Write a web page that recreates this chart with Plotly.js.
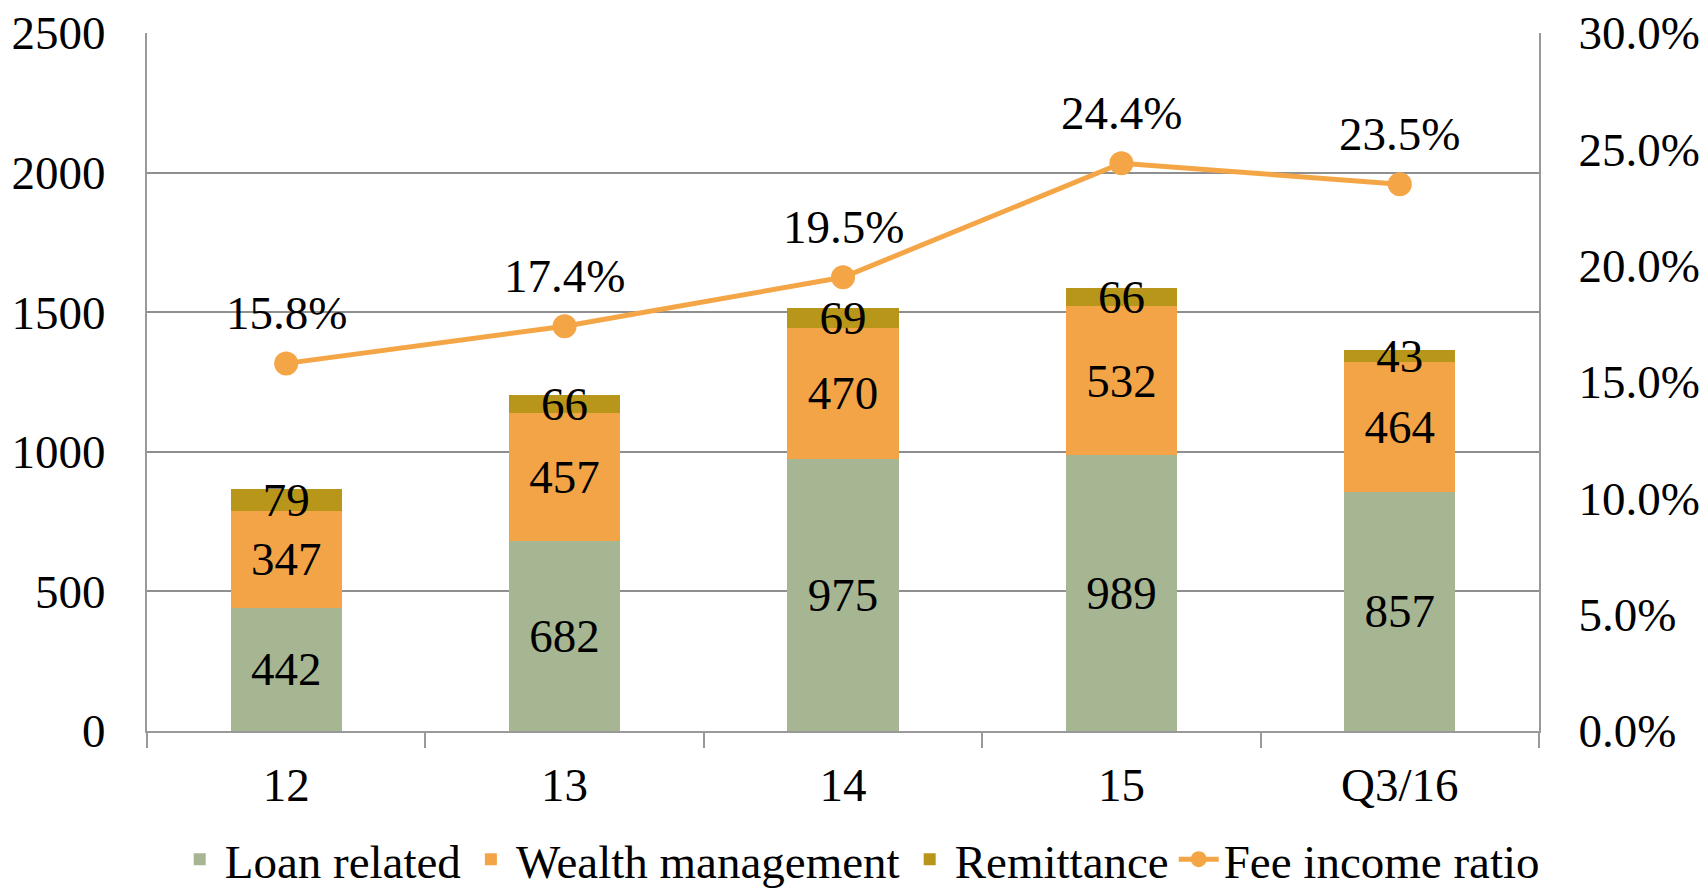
<!DOCTYPE html>
<html><head><meta charset="utf-8">
<script src="https://cdn.plot.ly/plotly-3.0.1.min.js"></script>
<style>html,body{margin:0;padding:0;background:#fff;}#chart{width:1704px;height:889px;}</style>
</head><body><div id="chart"></div>
<script>
const categories = ['12', '13', '14', '15', 'Q3/16'];
const loanRelated = [442, 682, 975, 989, 857];
const wealthManagement = [347, 457, 470, 532, 464];
const remittance = [79, 66, 69, 66, 43];
const feeIncomeRatio = [0.158, 0.174, 0.195, 0.244, 0.235];

const FONT = '"Liberation Serif", "Times New Roman", Times, serif';
const FS = 47;
const txtFont = {family: FONT, size: FS, color: '#000'};

function barTrace(name, vals, color) {
  return {
    type: 'bar', name: name, x: categories, y: vals,
    marker: {color: color, line: {width: 0}},
    text: vals.map(String), textposition: 'inside', insidetextanchor: 'middle',
    textangle: 0, constraintext: 'none', insidetextfont: txtFont,
    cliponaxis: false, hoverinfo: 'skip'
  };
}

const traces = [
  barTrace('Loan related', loanRelated, '#A6B592'),
  barTrace('Wealth management', wealthManagement, '#F3A447'),
  barTrace('Remittance', remittance, '#B8961A'),
  {
    type: 'scatter', mode: 'lines+markers', name: 'Fee income ratio',
    x: categories, y: feeIncomeRatio, yaxis: 'y2',
    line: {color: '#F4A646', width: 5},
    marker: {color: '#F4A646', size: 24},
    cliponaxis: false
  }
];

const annotations = categories.map((c, i) => ({
  x: i, y: feeIncomeRatio[i], xref: 'x', yref: 'y2',
  text: (feeIncomeRatio[i] * 100).toFixed(1) + '%',
  showarrow: false, yshift: 50, font: txtFont
}));

const layout = {
  width: 1704, height: 889,
  margin: {l: 147, r: 165, t: 33, b: 158, autoexpand: false},
  paper_bgcolor: '#fff', plot_bgcolor: 'rgba(0,0,0,0)',
  barmode: 'stack', bargap: 0.6,
  font: {family: FONT, size: FS, color: '#000'},
  showlegend: true,
  legend: {orientation: 'h', x: 0.512, xanchor: 'center', yref: 'container', y: 0.033, yanchor: 'middle',
           font: {family: FONT, size: FS, color: '#000'}, traceorder: 'normal',
           itemwidth: 40, tracegroupgap: 0},
  annotations: annotations,
  xaxis: {
    type: 'category', range: [-0.5, 4.5], showline: true, linecolor: '#999', linewidth: 2,
    ticks: 'outside', tickson: 'boundaries', ticklen: 15, tickcolor: '#999', tickwidth: 2,
    tickfont: {family: FONT, size: FS, color: '#000'}, ticklabelstandoff: 12,
    tickangle: 0, showgrid: false, zeroline: false, fixedrange: true
  },
  yaxis: {
    range: [0, 2500], dtick: 500, showgrid: true, gridcolor: '#8f8f8f', gridwidth: 2,
    showline: true, linecolor: '#999', linewidth: 2, zeroline: false,
    ticks: '', tickfont: {family: FONT, size: FS, color: '#000'}, ticklabelstandoff: 30,
    fixedrange: true
  },
  yaxis2: {
    range: [0, 0.30], dtick: 0.05, tickformat: '.1%', overlaying: 'y', side: 'right',
    showgrid: false, showline: true, linecolor: '#999', linewidth: 2, zeroline: false,
    ticks: '', tickfont: {family: FONT, size: FS, color: '#000'}, ticklabelstandoff: 28,
    fixedrange: true
  }
};

Plotly.newPlot('chart', traces, layout, {displayModeBar: false, staticPlot: true});
</script>
</body></html>
